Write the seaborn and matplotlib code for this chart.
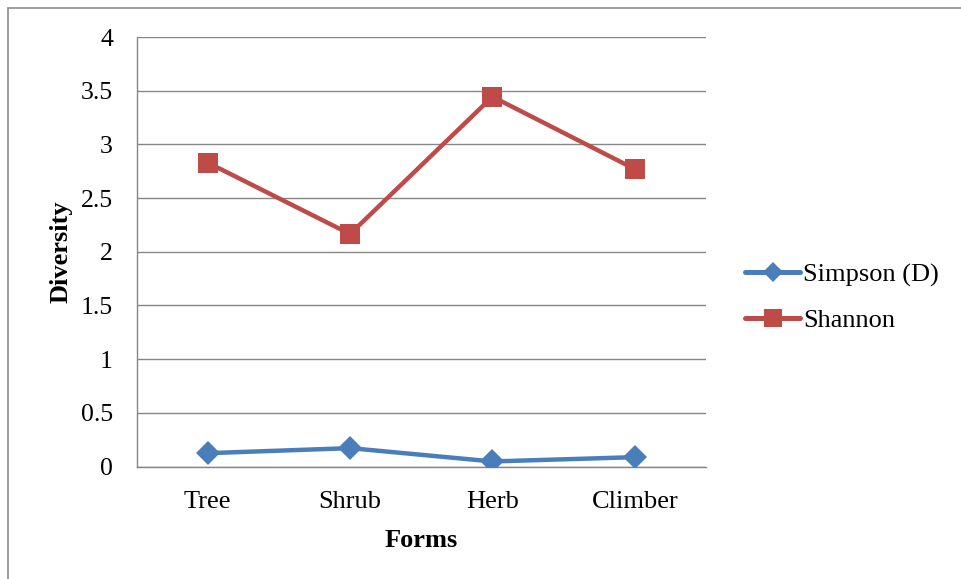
import matplotlib
matplotlib.use("Agg")
import matplotlib.pyplot as plt
import matplotlib.patches as mpatches
import seaborn as sns
import pandas as pd
import numpy as np

forms = ["Tree", "Shrub", "Herb", "Climber"]
simpson = [0.124, 0.171, 0.047, 0.087]
shannon = [2.83, 2.165, 3.444, 2.77]
y_ticks = [0, 0.5, 1, 1.5, 2, 2.5, 3, 3.5, 4]

sns.set_theme(style="white")
plt.rcParams["font.family"] = ["Liberation Serif", "DejaVu Serif"]
plt.rcParams["text.color"] = "black"
plt.rcParams["axes.labelcolor"] = "black"
plt.rcParams["xtick.labelcolor"] = "black"
plt.rcParams["ytick.labelcolor"] = "black"

FS = 19

df = pd.DataFrame({
    "Forms": forms * 2,
    "pos": list(range(len(forms))) * 2,
    "Diversity": simpson + shannon,
    "Index": ["Simpson (D)"] * len(forms) + ["Shannon"] * len(forms),
})

fig = plt.figure(figsize=(9.61, 5.79), dpi=100)
ax = fig.add_axes([136.5 / 961, 1 - 466.5 / 579, (706 - 136.5) / 961, (466.5 - 37) / 579])

# chart-area frame
frame = mpatches.Rectangle((8 / 961, -0.05), 1.2, 1 - 8 / 579 + 0.05, transform=fig.transFigure,
                           fill=False, edgecolor="#8c8c8c", linewidth=1.2, zorder=0)
fig.patches.append(frame)

palette = {"Simpson (D)": "#4A7EBB", "Shannon": "#BE4B48"}
markers = {"Simpson (D)": "D", "Shannon": "s"}
sns.lineplot(data=df, x="pos", y="Diversity", hue="Index", style="Index",
             palette=palette, markers=markers, dashes=False, linewidth=3.2,
             markersize=14, markeredgewidth=0, ax=ax, zorder=3)
for line in ax.lines:
    if line.get_marker() == "D":
        line.set_markersize(12.5)

ax.set_xlim(-0.5, len(forms) - 0.5)
ax.set_ylim(0, 4)
ax.set_yticks(y_ticks)
ax.set_yticklabels([f"{t:g}" for t in y_ticks])
ax.set_xticks(range(len(forms)))
ax.set_xticklabels(forms)
ax.set_xticks(np.arange(-0.5, len(forms), 1), minor=True)
ax.tick_params(axis="x", which="major", length=0, labelsize=FS, pad=18, colors="black")
ax.tick_params(axis="x", which="minor", length=6, width=1, color="#868686", direction="out")
ax.tick_params(axis="y", length=6, width=1, color="#868686", labelcolor="black",
               direction="out", labelsize=18.5, pad=11)
ax.grid(axis="y", color="#868686", linewidth=1)
ax.set_axisbelow(True)
for side in ["top", "right"]:
    ax.spines[side].set_visible(False)
for side in ["left", "bottom"]:
    ax.spines[side].set_color("#868686")
    ax.spines[side].set_linewidth(1)

ax.set_xlabel("Forms", fontsize=FS, fontweight="bold", labelpad=11, color="black")
ax.set_ylabel("Diversity", fontsize=FS, fontweight="bold", labelpad=6, color="black")

leg = fig.legend(*ax.get_legend_handles_labels(), loc="center left",
                 bbox_to_anchor=(745 / 961, 1 - 297.5 / 579), frameon=False,
                 fontsize=FS, handlelength=2.1, handletextpad=0.1, labelspacing=0.82,
                 borderpad=0, borderaxespad=0)
ax.get_legend().remove()
for h in leg.legend_handles:
    h.set_linewidth(3.6)
    if h.get_marker() == "D":
        h.set_markersize(10)
    else:
        h.set_markersize(12.5)
for t in leg.get_texts():
    t.set_color("black")

fig.savefig("out.png", dpi=100)
